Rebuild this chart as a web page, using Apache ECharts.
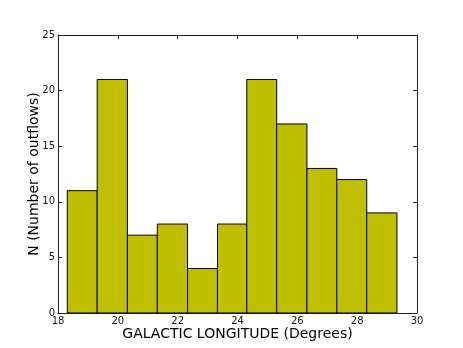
<!DOCTYPE html>
<html><head><meta charset="utf-8">
<script src="https://cdn.jsdelivr.net/npm/echarts@6/dist/echarts.min.js"></script>
<style>html,body{margin:0;padding:0;background:#fff}#c{width:463px;height:348px}</style>
</head><body><div id="c"></div>
<script>
const binEdges = [18.31, 19.31, 20.32, 21.32, 22.33, 23.33, 24.31, 25.31, 26.32, 27.32, 28.32, 29.33];
const counts = [11, 21, 7, 8, 4, 8, 21, 17, 13, 12, 9];
const xTicks = [18, 20, 22, 24, 26, 28, 30];
const yTicks = [0, 5, 10, 15, 20, 25];

const data = counts.map((c, i) => [binEdges[i], binEdges[i + 1], c]);
const chart = echarts.init(document.getElementById('c'), null, {renderer: 'canvas'});
const font = 'DejaVu Sans';
const lineStyle = {color: '#222', width: 1};
chart.setOption({
  animation: false,
  grid: {left: 58, right: 46, top: 35, bottom: 35, containLabel: false, outerBoundsMode: 'none'},
  xAxis: [{
    type: 'value', min: xTicks[0], max: xTicks[xTicks.length - 1], interval: 2,
    name: 'GALACTIC LONGITUDE (Degrees)', nameLocation: 'middle', nameGap: 14, nameMoveOverlap: false,
    nameTextStyle: {fontFamily: font, fontSize: 14, color: '#000'},
    axisLine: {show: true, onZero: false, lineStyle},
    axisTick: {show: true, inside: true, length: 4, lineStyle},
    axisLabel: {fontFamily: font, fontSize: 10, color: '#111', margin: 3},
    splitLine: {show: false}
  }, {
    type: 'value', min: xTicks[0], max: xTicks[xTicks.length - 1], interval: 2, position: 'top',
    axisLine: {show: true, onZero: false, lineStyle},
    axisTick: {show: true, inside: true, length: 4, lineStyle},
    axisLabel: {show: false}, splitLine: {show: false}
  }],
  yAxis: [{
    type: 'value', min: yTicks[0], max: yTicks[yTicks.length - 1], interval: 5,
    name: 'N (Number of outflows)', nameLocation: 'middle', nameGap: 17, nameMoveOverlap: false,
    nameTextStyle: {fontFamily: font, fontSize: 14, color: '#000'},
    axisLine: {show: true, onZero: false, lineStyle},
    axisTick: {show: true, inside: true, length: 4, lineStyle},
    axisLabel: {fontFamily: font, fontSize: 10, color: '#111', margin: 3},
    splitLine: {show: false}
  }, {
    type: 'value', min: yTicks[0], max: yTicks[yTicks.length - 1], interval: 5, position: 'right',
    axisLine: {show: true, onZero: false, lineStyle},
    axisTick: {show: true, inside: true, length: 4, lineStyle},
    axisLabel: {show: false}, splitLine: {show: false}
  }],
  series: [{
    type: 'custom',
    xAxisIndex: 0, yAxisIndex: 0,
    data: data,
    encode: {x: [0, 1], y: 2},
    renderItem: function (params, api) {
      const p0 = api.coord([api.value(0), api.value(2)]);
      const p1 = api.coord([api.value(1), 0]);
      return {
        type: 'rect',
        shape: {x: p0[0], y: p0[1], width: p1[0] - p0[0], height: p1[1] - p0[1]},
        style: {fill: '#bfbf00', stroke: '#000', lineWidth: 1}
      };
    }
  }]
});
</script></body></html>
